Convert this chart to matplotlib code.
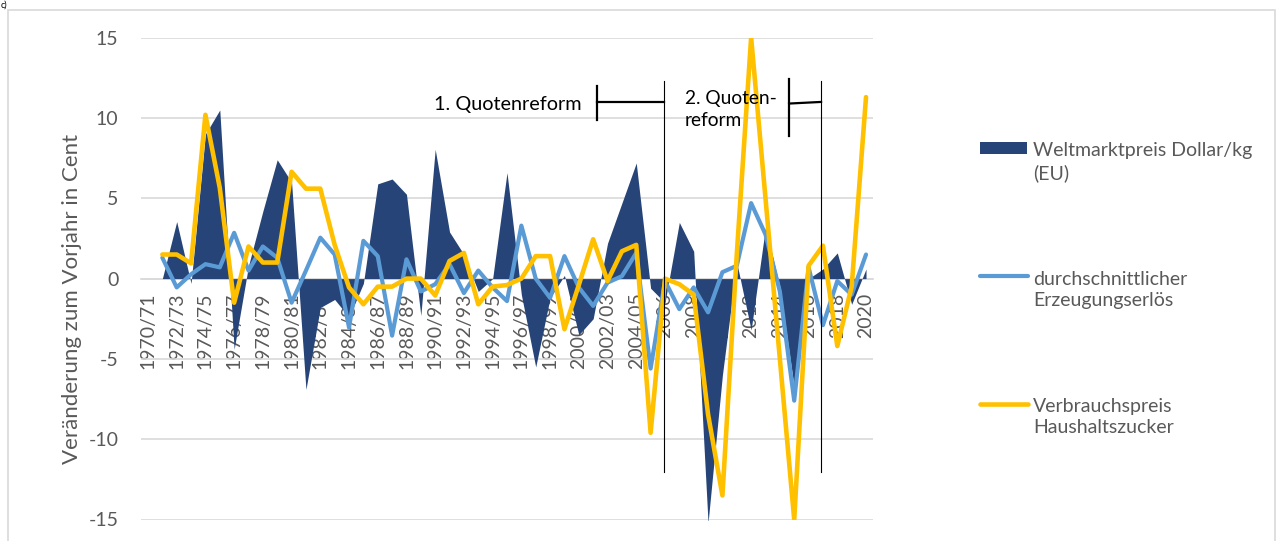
import matplotlib
matplotlib.use("Agg")
import matplotlib.pyplot as plt
import numpy as np
from matplotlib.lines import Line2D
from matplotlib.patches import Rectangle

plt.rcParams['font.family'] = ['Lato', 'DejaVu Sans']

# ---------------- data ----------------
categories = [f"{y}/{str(y + 1)[2:]}" for y in range(1970, 2006)] + [str(y) for y in range(2006, 2021)]

# Veränderung zum Vorjahr in Cent (first year has no change -> NaN)
weltmarkt = [np.nan,
             0.0, 3.55, -0.3, 9.0, 10.5, -4.4, 0.8, 4.2, 7.4, 6.0,
             -6.9, -1.8, -1.3, -2.4, -0.3, 5.9, 6.2, 5.25, -2.3, 8.05,
             2.9, 1.5, -0.8, 0.0, 6.6, -1.0, -5.5, -1.2, 0.2, -3.5,
             -2.5, 2.2, 4.7, 7.2, -0.6, -1.5, 3.5, 1.7, -15.2, -6.0,
             1.0, -3.2, 3.2, -0.5, -6.8, 0.0, 0.6, 1.6, -1.6, 0.6]

erzeugungserloes = [np.nan,
                    1.3, -0.55, 0.27, 0.9, 0.7, 2.85, 0.5, 2.0, 1.3, -1.5,
                    0.5, 2.55, 1.5, -3.05, 2.35, 1.4, -3.55, 1.2, -0.8, -0.35,
                    0.9, -0.9, 0.5, -0.55, -1.4, 3.3, 0.0, -1.2, 1.4, -0.55,
                    -1.7, -0.25, 0.15, 1.6, -5.6, -0.15, -1.9, -0.55, -2.1, 0.4,
                    0.8, 4.7, 2.75, -0.8, -7.6, 0.7, -2.9, -0.15, -1.0, 1.5]

verbrauchspreis = [np.nan,
                   1.5, 1.5, 0.95, 10.2, 5.65, -1.5, 2.0, 1.0, 1.0, 6.65,
                   5.6, 5.6, 2.1, -0.55, -1.6, -0.5, -0.5, 0.0, 0.0, -1.05,
                   1.1, 1.6, -1.6, -0.5, -0.4, 0.0, 1.4, 1.4, -3.15, -0.4,
                   2.45, -0.15, 1.7, 2.1, -9.6, 0.0, -0.35, -1.0, -8.45, -13.5,
                   1.5, 15.0, 5.0, -5.0, -15.0, 0.8, 2.05, -4.2, -0.5, 11.3]

series_names = ["Weltmarktpreis Dollar/kg\n(EU)",
                "durchschnittlicher\nErzeugungserlös",
                "Verbrauchspreis\nHaushaltszucker"]
colors = ["#264478", "#5B9BD5", "#FFC000"]

y_ticks = [-15, -10, -5, 0, 5, 10, 15]
y_label = "Veränderung zum Vorjahr in Cent"

# ---------------- figure ----------------
W, H = 1276, 541
fig = plt.figure(figsize=(W / 100, H / 100), dpi=100)
fig.patch.set_facecolor("white")

ax_l, ax_r, ax_t, ax_b = 140.8, 873.2, 37.7, 519.5
ax = fig.add_axes([ax_l / W, 1 - ax_b / H, (ax_r - ax_l) / W, (ax_b - ax_t) / H])

x = np.arange(len(categories))
wm = np.array(weltmarkt, dtype=float)
valid = ~np.isnan(wm)
ax.fill_between(x[valid], 0, wm[valid], color=colors[0], linewidth=0, zorder=2)
ax.plot(x, erzeugungserloes, color=colors[1], lw=3.0, solid_joinstyle='round',
        solid_capstyle='round', zorder=3)
ax.plot(x, verbrauchspreis, color=colors[2], lw=3.3, solid_joinstyle='round',
        solid_capstyle='round', zorder=4)

ax.set_xlim(-0.5, len(categories) - 0.5)
ax.set_ylim(-15, 15)
ax.set_yticks(y_ticks)
ax.set_yticklabels([str(t) for t in y_ticks])
ax.yaxis.grid(True, color="#D9D9D9", lw=1.2, zorder=0)
ax.set_axisbelow(True)
for s in ["top", "right", "left"]:
    ax.spines[s].set_visible(False)
ax.spines["bottom"].set_position(("data", 0))
ax.spines["bottom"].set_color("#D9D9D9")
ax.spines["bottom"].set_linewidth(1.2)
ax.spines["bottom"].set_zorder(1)

ax.set_xticks(x[::2])
ax.set_xticklabels(categories[::2], rotation=90, fontsize=14, color="#595959",
                   va="top", ha="center")
ax.tick_params(axis="x", length=0, pad=10)
ax.tick_params(axis="y", length=0, pad=16, labelsize=14, labelcolor="#595959")

fig.text(72 / W, 1 - 299 / H, y_label, rotation=90, ha="center", va="center",
         fontsize=16, color="#595959")

# ---------------- annotations (Quotenreform) ----------------
reform_lines_x = [35.9, 46.87]
for xv in reform_lines_x:
    ax.plot([xv, xv], [12.3, -12.07], color="black", lw=0.8, zorder=5, clip_on=False)

ax.plot([31.29, 31.29], [11.99, 9.86], color="black", lw=1.6, zorder=5)
ax.plot([31.29, 35.9], [11.0, 11.0], color="black", lw=1.6, zorder=5)
ax.text(30.22, 10.85, "1. Quotenreform", ha="right", va="center", fontsize=14.3,
        color="black", zorder=6)

ax.plot([44.64, 44.64], [12.43, 8.88], color="black", lw=1.6, zorder=5)
ax.plot([44.64, 46.87], [10.9, 11.0], color="black", lw=1.6, zorder=5)
ax.text(37.4, 10.51, "2. Quoten-\nreform", ha="left", va="center", fontsize=13.8,
        color="black", linespacing=1.35, zorder=6)

# ---------------- legend ----------------
def fx(px):
    return px / W

def fy(py):
    return 1 - py / H

fig.add_artist(Rectangle((fx(980), fy(154)), fx(1027) - fx(980), fy(142) - fy(154),
                         transform=fig.transFigure, color=colors[0], lw=0))
fig.add_artist(Line2D([fx(980), fx(1028)], [fy(276), fy(276)], transform=fig.transFigure,
                      color=colors[1], lw=3.0, solid_capstyle='round'))
fig.add_artist(Line2D([fx(980), fx(1028)], [fy(404), fy(404)], transform=fig.transFigure,
                      color=colors[2], lw=3.3, solid_capstyle='round'))
for name, yc in zip(series_names, [162, 290, 417]):
    fig.text(fx(1033), fy(yc), name, ha="left", va="center", fontsize=14,
             color="#595959", linespacing=1.3)

# border and panel letter
fig.add_artist(Rectangle((fx(8), -0.02), fx(1275) - fx(8), fy(10) + 0.02, transform=fig.transFigure,
                         fill=False, edgecolor="#D9D9D9", lw=1.2))
fig.text(fx(1), fy(0.5), "c)", ha="left", va="top", fontsize=6.5, color="black")

fig.savefig("out.png", dpi=100, facecolor="white")
